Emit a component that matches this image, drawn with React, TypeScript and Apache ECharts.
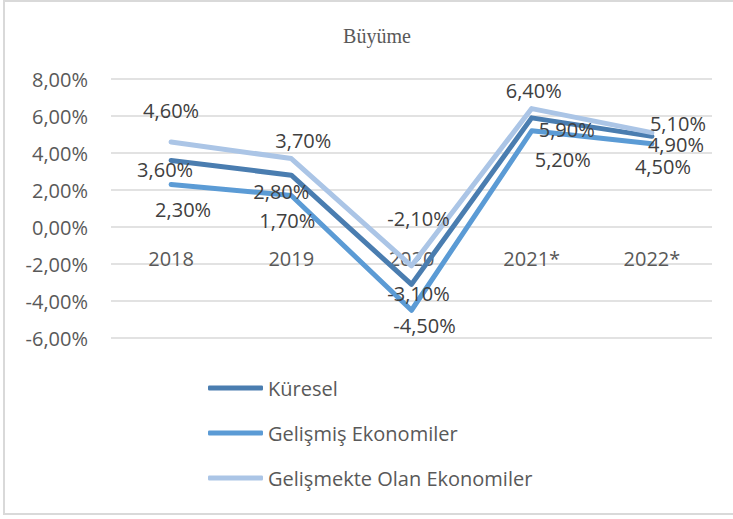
import React, { useEffect, useRef } from "react";
import * as echarts from "echarts";

const categories = ["2018", "2019", "2020", "2021*", "2022*"];
const kuresel = [3.6, 2.8, -3.1, 5.9, 4.9];
const gelismis = [2.3, 1.7, -4.5, 5.2, 4.5];
const gelismekte = [4.6, 3.7, -2.1, 6.4, 5.1];
const seriesNames = ["Küresel", "Gelişmiş Ekonomiler", "Gelişmekte Olan Ekonomiler"];
const colors = ["#4a7db0", "#5b9bd5", "#abc5e6"];

// per-point label offsets (label nudges like in the source chart)
const kureselOffsets = [[-6, 9], [-10, 16], [7, 9], [35, 12], [24, 8]];
const gelismisOffsets = [[12, 25], [-4, 25], [13, 15], [31, 29], [11, 23]];
const gelismekteOffsets = [[0, -31], [12, -18], [7, -47], [2, -18], [26, -9]];

const FONT = "'Open Sans', sans-serif";
const fmt = (v: number) => v.toFixed(2).replace(".", ",") + "%";

function build(values: number[], offsets: number[][]) {
  return values.map((v, i) => ({
    value: v,
    label: { offset: offsets[i] },
  }));
}

export default function App() {
  const ref = useRef<HTMLDivElement>(null);
  useEffect(() => {
    if (!ref.current) return;
    const chart = echarts.init(ref.current, null, { renderer: "svg" });
    const mk = (name: string, values: number[], offsets: number[][], color: string) => ({
      name,
      type: "line",
      data: build(values, offsets),
      symbol: "circle",
      symbolSize: 1,
      showSymbol: true,
      itemStyle: { color: "rgba(0,0,0,0)" },
      lineStyle: { color, width: 5, cap: "round", join: "round" },
      label: {
        show: true,
        position: "inside",
        formatter: (p: any) => fmt(p.value),
        color: "#404040",
        fontFamily: FONT,
        fontSize: 20,
      },
      emphasis: { disabled: true },
    });
    chart.setOption({
      animation: false,
      title: {
        text: "Büyüme",
        left: 372,
        textAlign: "center",
        top: 21,
        textStyle: {
          fontFamily: "'Liberation Serif', 'Times New Roman', serif",
          fontSize: 20,
          fontWeight: "normal",
          color: "#595959",
        },
      },
      graphic: [
        {
          type: "rect",
          shape: { x: 4, y: 1, width: 745, height: 513 },
          style: { fill: "none", stroke: "#d9d9d9", lineWidth: 2 },
          silent: true,
          z: -1,
        },
      ],
      legend: {
        orient: "vertical",
        left: 203,
        top: 371,
        itemWidth: 55,
        itemHeight: 5,
        itemGap: 21,
        icon: "roundRect",
        textStyle: { fontFamily: FONT, fontSize: 20, color: "#595959", lineHeight: 24 },
        data: seriesNames.map((n, i) => ({ name: n, itemStyle: { color: colors[i] } })),
      },
      grid: { left: 111, top: 79, width: 601, height: 259 },
      xAxis: {
        type: "category",
        data: categories,
        boundaryGap: true,
        offset: -111,
        axisLine: { show: false, onZero: false },
        axisTick: { show: false },
        axisLabel: { margin: 21, fontFamily: FONT, fontSize: 20, color: "#595959" },
      },
      yAxis: {
        type: "value",
        min: -6,
        max: 8,
        interval: 2,
        axisLine: { show: false },
        axisTick: { show: false },
        splitLine: { lineStyle: { color: "#d9d9d9", width: 1.5 } },
        axisLabel: {
          margin: 23,
          fontFamily: FONT,
          fontSize: 20,
          color: "#595959",
          formatter: (v: number) => fmt(v),
        },
      },
      series: [
        mk(seriesNames[0], kuresel, kureselOffsets, colors[0]),
        mk(seriesNames[1], gelismis, gelismisOffsets, colors[1]),
        mk(seriesNames[2], gelismekte, gelismekteOffsets, colors[2]),
      ],
    });
    return () => chart.dispose();
  }, []);
  return (
    <div
      ref={ref}
      style={{ position: "fixed", left: 0, top: 0, width: 733, height: 519, background: "#fff" }}
    />
  );
}
